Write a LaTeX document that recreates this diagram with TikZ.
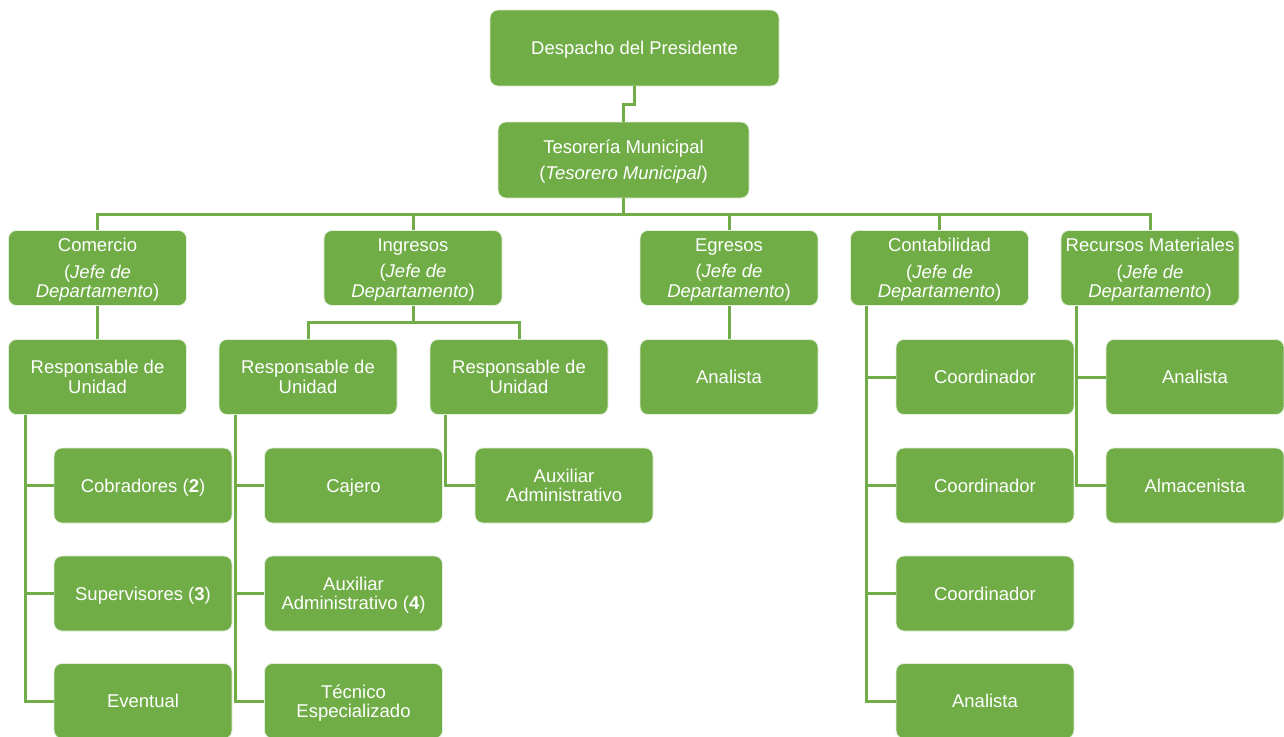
\documentclass[tikz,border=0pt]{standalone}
\usepackage{fontspec}
\setmainfont{Liberation Sans}
\usetikzlibrary{calc}
\definecolor{orgreen}{HTML}{70AD47}
\begin{document}
\begin{tikzpicture}[x=1pt,y=-1pt,
  box/.style={rectangle, rounded corners=8pt, fill=orgreen, draw=white!80!orgreen,
    line width=0.8pt, text=white, align=center, minimum width=178pt,
    minimum height=75pt, inner sep=1pt, text depth=0pt,
    font=\fontsize{18.5}{19.5}\selectfont},
  link/.style={draw=orgreen, line width=3pt}]
\useasboundingbox (0,0) rectangle (1284,736);

% top of the chart
\node[box, minimum width=289pt, minimum height=76pt] (desp) at (634.5,48) {Despacho del Presidente};
\node[box, minimum width=251pt, minimum height=76pt] (teso) at (623.5,160)
  {Tesorería Municipal\\[6.5pt](\textit{Tesorero Municipal})};

% departments
\node[box] (com) at (97.5,268) {Comercio\\[7pt](\textit{Jefe de}\\\textit{Departamento})};
\node[box] (ing) at (413,268) {Ingresos\\[7pt](\textit{Jefe de}\\\textit{Departamento})};
\node[box] (egr) at (729,268) {Egresos\\[7pt](\textit{Jefe de}\\\textit{Departamento})};
\node[box] (con) at (939.5,268) {Contabilidad\\[7pt](\textit{Jefe de}\\\textit{Departamento})};
\node[box] (rec) at (1150,268) {Recursos Materiales\\[7pt](\textit{Jefe de}\\\textit{Departamento})};

% third level
\node[box] (cru) at (97.5,377) {Responsable de\\Unidad};
\node[box] (iru) at (308,377) {Responsable de\\Unidad};
\node[box] (iruu) at (519,377) {Responsable de\\Unidad};
\node[box] (ean) at (729,377) {Analista};
\node[box] (coa) at (985,377) {Coordinador};
\node[box] (cob) at (985,485.5) {Coordinador};
\node[box] (coc) at (985,593.5) {Coordinador};
\node[box] (cod) at (985,701) {Analista};
\node[box] (ran) at (1195,377) {Analista};
\node[box] (ral) at (1195,485.5) {Almacenista};

% fourth level
\node[box] (cobr) at (143,485.5) {Cobradores (\textbf{2})};
\node[box] (supv) at (143,593.5) {Supervisores (\textbf{3})};
\node[box] (evnt) at (143,701) {Eventual};
\node[box] (caje) at (353.5,485.5) {Cajero};
\node[box] (auxa) at (353.5,593.5) {Auxiliar\\Administrativo (\textbf{4})};
\node[box] (tecn) at (353.5,701) {Técnico\\Especializado};
\node[box] (auxb) at (564,485.5) {Auxiliar\\Administrativo};

% connectors
\coordinate (bus) at (0,214);
\draw[link] (desp.south) |- ($(desp.south)!0.5!(teso.north)$) -| (teso.north);
\draw[link] (teso.south) -- (teso.south |- bus);
\draw[link] (com.north) -- (com.north |- bus) -- (rec.north |- bus) -- (rec.north);
\foreach \d in {ing,egr,con} \draw[link] (\d.north) -- (\d.north |- bus);

\draw[link] (com.south) -- (cru.north);
\draw[link] (egr.south) -- (ean.north);
\draw[link] (ing.south) |- ($(ing.south)!0.5!(iru.north)$) -| (iru.north);
\draw[link] (ing.south) |- ($(ing.south)!0.5!(iruu.north)$) -| (iruu.north);

\coordinate (sc) at ($(cru.south west)+(17,0)$);
\foreach \c in {cobr,supv,evnt} \draw[link] (sc) |- (\c.west);
\coordinate (si) at ($(iru.south west)+(17,0)$);
\foreach \c in {caje,auxa,tecn} \draw[link] (si) |- (\c.west);
\coordinate (sj) at ($(iruu.south west)+(16,0)$);
\draw[link] (sj) |- (auxb.west);
\coordinate (sk) at ($(con.south west)+(16,0)$);
\foreach \c in {coa,cob,coc,cod} \draw[link] (sk) |- (\c.west);
\coordinate (sl) at ($(rec.south west)+(16,0)$);
\foreach \c in {ran,ral} \draw[link] (sl) |- (\c.west);
\end{tikzpicture}
\end{document}
